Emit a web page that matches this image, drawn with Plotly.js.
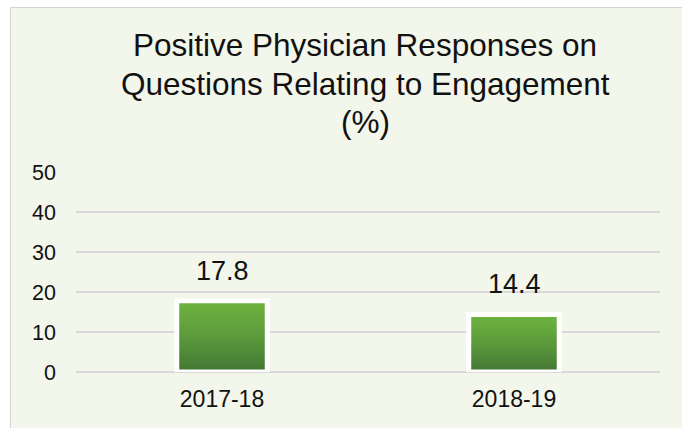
<!DOCTYPE html>
<html>
<head>
<meta charset="utf-8">
<script src="https://cdn.plot.ly/plotly-3.0.1.min.js"></script>
<style>
  html, body { margin: 0; padding: 0; background: #ffffff; overflow: hidden; width: 682px; height: 428px; }
  #wrap { position: absolute; left: 10px; top: 7px; width: 690px; height: 440px;
          border-left: 1.5px solid #d4d4d4; border-top: 1.5px solid #d4d4d4; background: #f3f6ea; }
  #chart { position: absolute; left: 0; top: 0; }
</style>
</head>
<body>
<div id="wrap"><div id="chart"></div></div>
<script>
const categories = ["2017-18", "2018-19"];
const values = [17.8, 14.4];
const valueLabels = ["17.8", "14.4"];
const yTicks = [0, 10, 20, 30, 40, 50];
const titleLines = ["Positive Physician Responses on", "Questions Relating to Engagement", "(%)"];

const FONT = "Liberation Sans, Arial, sans-serif";

const trace = {
  type: "bar",
  x: categories,
  y: values,
  width: 0.31,
  marker: { color: "#5a9a3c", line: { color: "#ffffff", width: 5 } },
  hoverinfo: "none"
};

const annotations = categories.map((c, i) => ({
  x: c, y: values[i], xref: "x", yref: "y",
  text: valueLabels[i], showarrow: false,
  yanchor: "middle", yshift: 30,
  font: { family: FONT, size: 27, color: "#111111" }
}));

// title lines, tight line spacing as in the reference
const titleY = [1.6325, 1.4425, 1.2525];
titleLines.forEach((t, i) => {
  annotations.push({
    text: t, showarrow: false,
    xref: "paper", yref: "paper", x: 0.4957, y: titleY[i],
    xanchor: "center", yanchor: "middle",
    font: { family: FONT, size: 31.5, color: "#111111" }
  });
});

const layout = {
  width: 680, height: 430,
  margin: { l: 65, r: 31, t: 164, b: 66 },
  paper_bgcolor: "#f3f6ea",
  plot_bgcolor: "#f3f6ea",
  showlegend: false,
  xaxis: {
    type: "category",
    showgrid: false, zeroline: false, showline: false, ticks: "",
    ticklabelstandoff: 11,
    tickfont: { family: FONT, size: 23, color: "#111111" }
  },
  yaxis: {
    range: [0, 50],
    tickvals: yTicks,
    ticktext: yTicks.map(String),
    showgrid: true, gridcolor: "#d9d9d9", gridwidth: 1.2,
    zeroline: true, zerolinecolor: "#d9d9d9", zerolinewidth: 1.2,
    showline: false, ticks: "",
    ticklabelstandoff: 19,
    tickfont: { family: FONT, size: 21.5, color: "#111111" }
  },
  annotations: annotations
};

Plotly.newPlot("chart", [trace], layout, { displayModeBar: false, staticPlot: true }).then(gd => {
  const svg = gd.querySelector("svg.main-svg");
  const ns = "http://www.w3.org/2000/svg";
  let defs = svg.querySelector("defs");
  if (!defs) { defs = document.createElementNS(ns, "defs"); svg.insertBefore(defs, svg.firstChild); }
  const grad = document.createElementNS(ns, "linearGradient");
  grad.setAttribute("id", "barGrad");
  grad.setAttribute("x1", "0"); grad.setAttribute("y1", "0");
  grad.setAttribute("x2", "0"); grad.setAttribute("y2", "1");
  [["0", "#6fb43f"], ["0.5", "#5c9a3b"], ["1", "#427634"]].forEach(([o, c]) => {
    const s = document.createElementNS(ns, "stop");
    s.setAttribute("offset", o); s.setAttribute("stop-color", c);
    grad.appendChild(s);
  });
  defs.appendChild(grad);
  gd.querySelectorAll(".bars .point path").forEach(p => {
    p.style.fill = "url(#barGrad)";
  });
});
</script>
</body>
</html>
